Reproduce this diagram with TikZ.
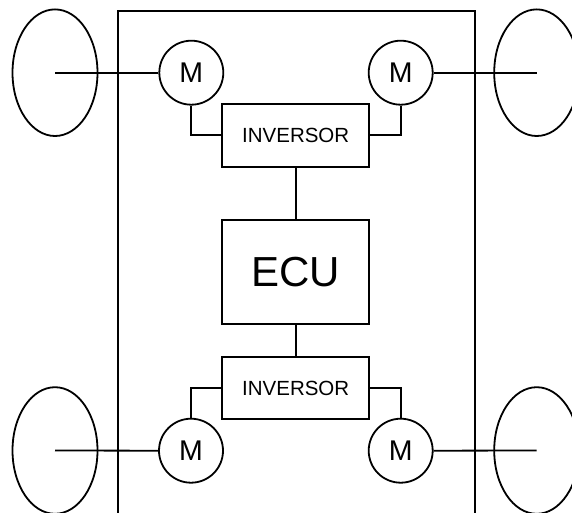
\documentclass[tikz,border=0pt]{standalone}
\usepackage{fontspec}
\setmainfont{Liberation Sans}
\usetikzlibrary{shapes.geometric}
\begin{document}
\begin{tikzpicture}[x=1pt,y=-1pt,line width=1.8pt,
  wheel/.style={draw,ellipse,minimum width=85pt,minimum height=126.6pt,inner sep=0pt},
  motor/.style={draw,circle,minimum size=64pt,inner sep=0pt,font=\fontsize{28.5}{32}\selectfont},
  box/.style={draw,rectangle,minimum width=147.3pt,inner sep=0pt},
  inv/.style={box,minimum height=62.7pt,font=\fontsize{20.5}{24}\selectfont},
  ecu/.style={box,minimum height=104.3pt,font=\fontsize{42}{48}\selectfont}]
\useasboundingbox (0,0) rectangle (572,513);
\node[draw,rectangle,anchor=north west,minimum width=356.7pt,minimum height=503pt,inner sep=0pt] (chassis) at (117.3,10) {};
\node[wheel] (wTL) at (55,72.7) {};
\node[wheel] (wTR) at (536.7,72.7) {};
\node[wheel] (wBL) at (55,450.5) {};
\node[wheel] (wBR) at (536.7,450.5) {};
\node[motor] (mTL) at (191.3,72.7) {M};
\node[motor] (mTR) at (400.7,72.7) {M};
\node[motor] (mBL) at (191,450.7) {M};
\node[motor] (mBR) at (400.7,450.7) {M};
\node[inv] (invT) at (295.7,135.3) {INVERSOR};
\node[ecu] (ecu) at (295.7,272.2) {ECU};
\node[inv] (invB) at (295.7,388) {INVERSOR};
\draw (wTL.center) -- (mTL.west);
\draw (mTR.east) -- (wTR.center);
\draw (wBL.center) -- (mBL.west);
\draw (mBR.east) -- (wBR.center);
\draw (mTL.south) |- (invT.west);
\draw (mTR.south) |- (invT.east);
\draw (mBL.north) |- (invB.west);
\draw (mBR.north) |- (invB.east);
\draw (invT.south) -- (ecu.north);
\draw (ecu.south) -- (invB.north);
\end{tikzpicture}
\end{document}
